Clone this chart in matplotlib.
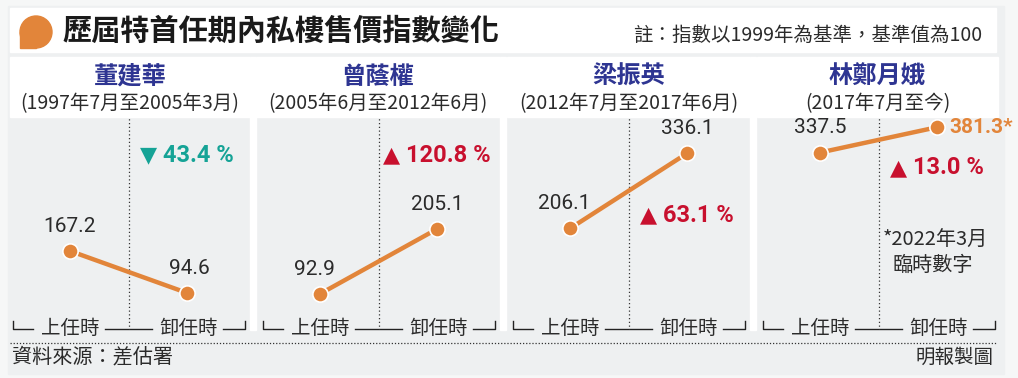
import matplotlib
matplotlib.use("Agg")
import matplotlib.pyplot as plt
from matplotlib.patches import Rectangle, Circle

# data
names = ["董建華", "曾蔭權", "梁振英", "林鄭月娥"]
periods = ["(1997年7月至2005年3月)", "(2005年6月至2012年6月)",
           "(2012年7月至2017年6月)", "(2017年7月至今)"]
start_vals = [167.2, 92.9, 206.1, 337.5]
end_vals = [94.6, 205.1, 336.1, 381.3]
changes = ["43.4 %", "120.8 %", "63.1 %", "13.0 %"]
change_up = [False, True, True, True]

W, H = 1018, 378
ORANGE = "#e2853a"
TEAL = "#15a396"
RED = "#c8102e"
NAVY = "#2e3592"
TXT = "#2b2b2b"
BG = "#eef0f1"

plt.rcParams["font.family"] = ["Noto Sans CJK TC", "DejaVu Sans"]

fig = plt.figure(figsize=(W / 100, H / 100), dpi=100)
fig.patch.set_facecolor("#f6f7f7")

# background axes in pixel coords
bg = fig.add_axes([0, 0, 1, 1])
bg.set_xlim(0, W)
bg.set_ylim(H, 0)
bg.axis("off")

bg.add_patch(Rectangle((8, 6), 996, 368, color=BG, zorder=0))
bg.add_patch(Rectangle((10, 8), 986, 44, color="white", zorder=1))

# title marker (rounded blob with square bottom-left corner)
bg.add_patch(Circle((36, 32), 16, color=ORANGE, zorder=2))
bg.add_patch(Rectangle((20, 32), 16, 16, color=ORANGE, zorder=2))
bg.text(62, 31, "歷屆特首任期內私樓售價指數變化", fontsize=21, fontweight="bold",
        color="#1a1a1a", va="center", ha="left", zorder=3)
bg.text(982, 35, "註：指數以1999年為基準，基準值為100", fontsize=14,
        color=TXT, va="center", ha="right", zorder=3)

lefts = [10, 260, 510, 760]
panel_edges = [(10, 250), (256, 500), (507, 750), (757, 998)]

for (a, b) in panel_edges:
    bg.add_patch(Rectangle((a, 57), b - a, 60, color="white", zorder=1))
# white gaps between panels
for x0 in [250, 500, 750]:
    bg.add_patch(Rectangle((x0, 57), 6.5, 273, color="white", zorder=1))

# dotted footer rule
bg.plot([10, 996], [342.5, 342.5], ls=(0, (1, 1.5)), color="#333333", lw=0.9, zorder=2)
bg.text(12, 357, "資料來源：差估署", fontsize=14.5, color=TXT, va="center", ha="left")
bg.text(994, 357, "明報製圖", fontsize=14, color=TXT, va="center", ha="right")

# percent annotations (pixel positions)
chg_pos = [(140, 155), (383, 155), (640, 215), (890, 168)]
foot_x = 883

for i in range(4):
    L = lefts[i]
    c = (panel_edges[i][0] + panel_edges[i][1]) / 2
    bg.text(c, 77, names[i], fontsize=17.5, fontweight="bold", color=NAVY,
            ha="center", va="center", zorder=3)
    bg.text(c, 104, periods[i], fontsize=14, color=TXT,
            ha="center", va="center", zorder=3)

    # bottom bracket
    y = 329
    k = dict(color="#222222", lw=1.0, zorder=3)
    bg.plot([L + 3, L + 3, L + 23], [321, y, y], **k)
    bg.plot([L + 95, L + 142], [y, y], **k)
    bg.plot([L + 213, L + 235, L + 235], [y, y, 321], **k)
    bg.text(L + 60, y, "上任時", fontsize=14, color=TXT, ha="center", va="center", zorder=3)
    bg.text(L + 178, y, "卸任時", fontsize=14, color=TXT, ha="center", va="center", zorder=3)

    px, py = chg_pos[i]
    col = RED if change_up[i] else TEAL
    sym = "▲" if change_up[i] else "▼"
    bg.text(px, py, sym, fontsize=16, color=col, ha="left", va="center",
            family="DejaVu Sans", zorder=3)
    bg.text(px + 23, py, changes[i], fontsize=17, fontweight="bold", color=col,
            ha="left", va="center", family="Roboto", zorder=3)

bg.text(foot_x, 240, "*2022年3月", fontsize=14.5, color=TXT, ha="left", va="center")
bg.text(foot_x + 10, 265, "臨時數字", fontsize=14.5, color=TXT, ha="left", va="center")

# data axes, one per term, common index scale
y_lo, y_hi = 30.4, 399.0
for i in range(4):
    L = lefts[i]
    ax = fig.add_axes([L / W, (H - 330) / H, 240 / W, 213 / H])
    ax.patch.set_alpha(0)
    ax.set_xlim(-60 / 117, 180 / 117)
    ax.set_ylim(y_lo, y_hi)
    ax.axis("off")
    ax.axvline(0.5, ls=(0, (1, 2)), color="#333333", lw=0.9, ymin=0, ymax=1)
    ax.plot([0, 1], [start_vals[i], end_vals[i]], color=ORANGE, lw=3.2,
            marker="o", ms=11, mfc=ORANGE, mec="white", mew=1.2, zorder=4)
    ax.annotate(f"{start_vals[i]:.1f}", (0, start_vals[i]), xytext=(-4 if i in (1, 2) else 0, 11),
                textcoords="offset points", ha="center", va="bottom",
                fontsize=15, color=TXT, family="Roboto")
    if i == 3:
        ax.annotate(f"{end_vals[i]:.1f}*", (1, end_vals[i]), xytext=(9, 0),
                    textcoords="offset points", ha="left", va="center",
                    fontsize=15, fontweight="bold", color=ORANGE, family="Roboto")
    else:
        ax.annotate(f"{end_vals[i]:.1f}", (1, end_vals[i]), xytext=(2 if i == 0 else 0, 11),
                    textcoords="offset points", ha="center", va="bottom",
                    fontsize=15, color=TXT, family="Roboto")

fig.savefig("out.png", dpi=100, facecolor=fig.get_facecolor())
